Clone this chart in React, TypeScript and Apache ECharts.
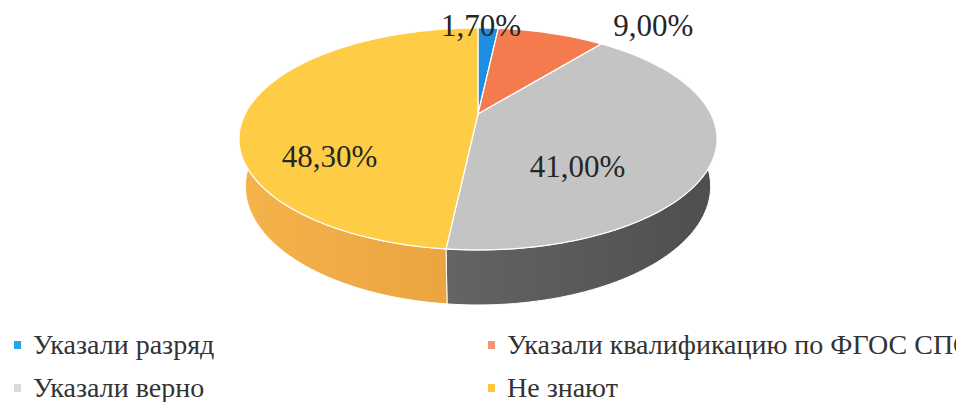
import React, { useEffect, useRef } from 'react';
import * as echarts from 'echarts';

// ---------- data ----------
const categories = ['Указали разряд', 'Указали квалификацию по ФГОС СПО', 'Указали верно', 'Не знают'];
const values = [1.7, 9.0, 41.0, 48.3];
const valueLabels = ['1,70%', '9,00%', '41,00%', '48,30%'];

// ---------- styles ----------
const topColors = ['#1E8FE0', '#F47B4E', '#C4C4C4', '#FFCD45'];
const sideColors = [
  ['#1570B8', '#1570B8'],
  ['#D0603A', '#D0603A'],
  ['#646464', '#4E4E4E'],
  ['#F5B34B', '#E9A23F'],
];
const legendColors = ['#2AA2EE', '#F8937A', '#DADADA', '#FFC83A'];

// ---------- 3D projection layout ----------
const CX = 478;
const CY = 114;
const R = 232.9;
const ALPHA = (26.9 * Math.PI) / 180;
const DIST = 923;
const DEPTH = 53.4;
const cosA = Math.cos(ALPHA);
const sinA = Math.sin(ALPHA);

const labelRadius = [1.0, 1.0, 0.5, 0.6];
const labelNudge = [
  [-7, -1],
  [102, -6],
  [-13, 33],
  [-10, 47],
];

function project(x: number, y: number, z: number): number[] {
  const yp = y * cosA - z * sinA;
  const zp = y * sinA + z * cosA;
  const s = DIST / (DIST - zp);
  return [CX + x * s, CY - yp * s];
}
function rimPoint(theta: number, y: number, r: number = R): number[] {
  return project(r * Math.sin(theta), y, -r * Math.cos(theta));
}

const total = values.reduce((a, b) => a + b, 0);
const cum: number[] = [0];
values.forEach((v) => cum.push(cum[cum.length - 1] + v));
function angles(i: number) {
  const start = (cum[i] / total) * Math.PI * 2;
  const end = (cum[i + 1] / total) * Math.PI * 2;
  return [start, end];
}
function arcPoints(start: number, end: number, y: number): number[][] {
  const n = Math.max(2, Math.ceil(((end - start) / (Math.PI * 2)) * 240));
  const pts: number[][] = [];
  for (let k = 0; k <= n; k++) {
    const t = start + ((end - start) * k) / n;
    pts.push(rimPoint(t, y));
  }
  return pts;
}

const FONT_FAMILY = 'Liberation Serif';
const LEGEND_FONT_SIZE = 28;

export default function App() {
  const ref = useRef<HTMLDivElement>(null);

  useEffect(() => {
    document.body.style.margin = '0';
    if (!ref.current) return;
    const chart = echarts.init(ref.current, undefined, { renderer: 'svg' });

    const legendPos = [
      [14, 345],
      [488, 345],
      [14, 388],
      [488, 388],
    ];
    const legendGraphics: any[] = [];
    categories.forEach((name, i) => {
      const [x, y] = legendPos[i];
      legendGraphics.push({
        type: 'rect',
        shape: { x, y: y - 4, width: 7, height: 8 },
        style: { fill: legendColors[i] },
      });
      legendGraphics.push({
        type: 'text',
        x: x + 19,
        y: y - LEGEND_FONT_SIZE / 2 - 1,
        style: {
          text: name,
          font: `${LEGEND_FONT_SIZE}px Liberation Serif`,
          fill: '#333333',
        },
      });
    });

    chart.setOption({
      animation: false,
      graphic: legendGraphics,
      series: [
        {
          type: 'custom',
          name: 'sides',
          coordinateSystem: 'none',
          z: 1,
          data: values,
          renderItem: (params: any) => {
            const i = params.dataIndex;
            const [start, end] = angles(i);
            const top = arcPoints(start, end, 0);
            const bot = arcPoints(start, end, -DEPTH).reverse();
            return {
              type: 'polygon',
              shape: { points: top.concat(bot) },
              style: {
                fill: new echarts.graphic.LinearGradient(0, 0, 1, 0, [
                  { offset: 0, color: sideColors[i][0] },
                  { offset: 1, color: sideColors[i][1] },
                ]),
                stroke: '#ffffff',
                lineWidth: 1,
              },
              silent: true,
            };
          },
        },
        {
          type: 'custom',
          name: 'tops',
          coordinateSystem: 'none',
          z: 2,
          data: values,
          renderItem: (params: any) => {
            const i = params.dataIndex;
            const [start, end] = angles(i);
            const pts = [project(0, 0, 0)].concat(arcPoints(start, end, 0));
            const mid = (start + end) / 2;
            const lp = rimPoint(mid, 0, R * labelRadius[i]);
            return {
              type: 'group',
              children: [
                {
                  type: 'polygon',
                  shape: { points: pts },
                  style: { fill: topColors[i], stroke: '#ffffff', lineWidth: 1.2 },
                },
                {
                  type: 'text',
                  x: lp[0] + labelNudge[i][0],
                  y: lp[1] + labelNudge[i][1] - 17,
                  z2: 10,
                  style: {
                    text: valueLabels[i],
                    font: '31px Liberation Serif',
                    fill: '#262626',
                    align: 'center',
                  },
                },
              ],
            };
          },
        },
      ],
    });

    return () => chart.dispose();
  }, []);

  return <div ref={ref} style={{ width: 956, height: 402 }} />;
}
